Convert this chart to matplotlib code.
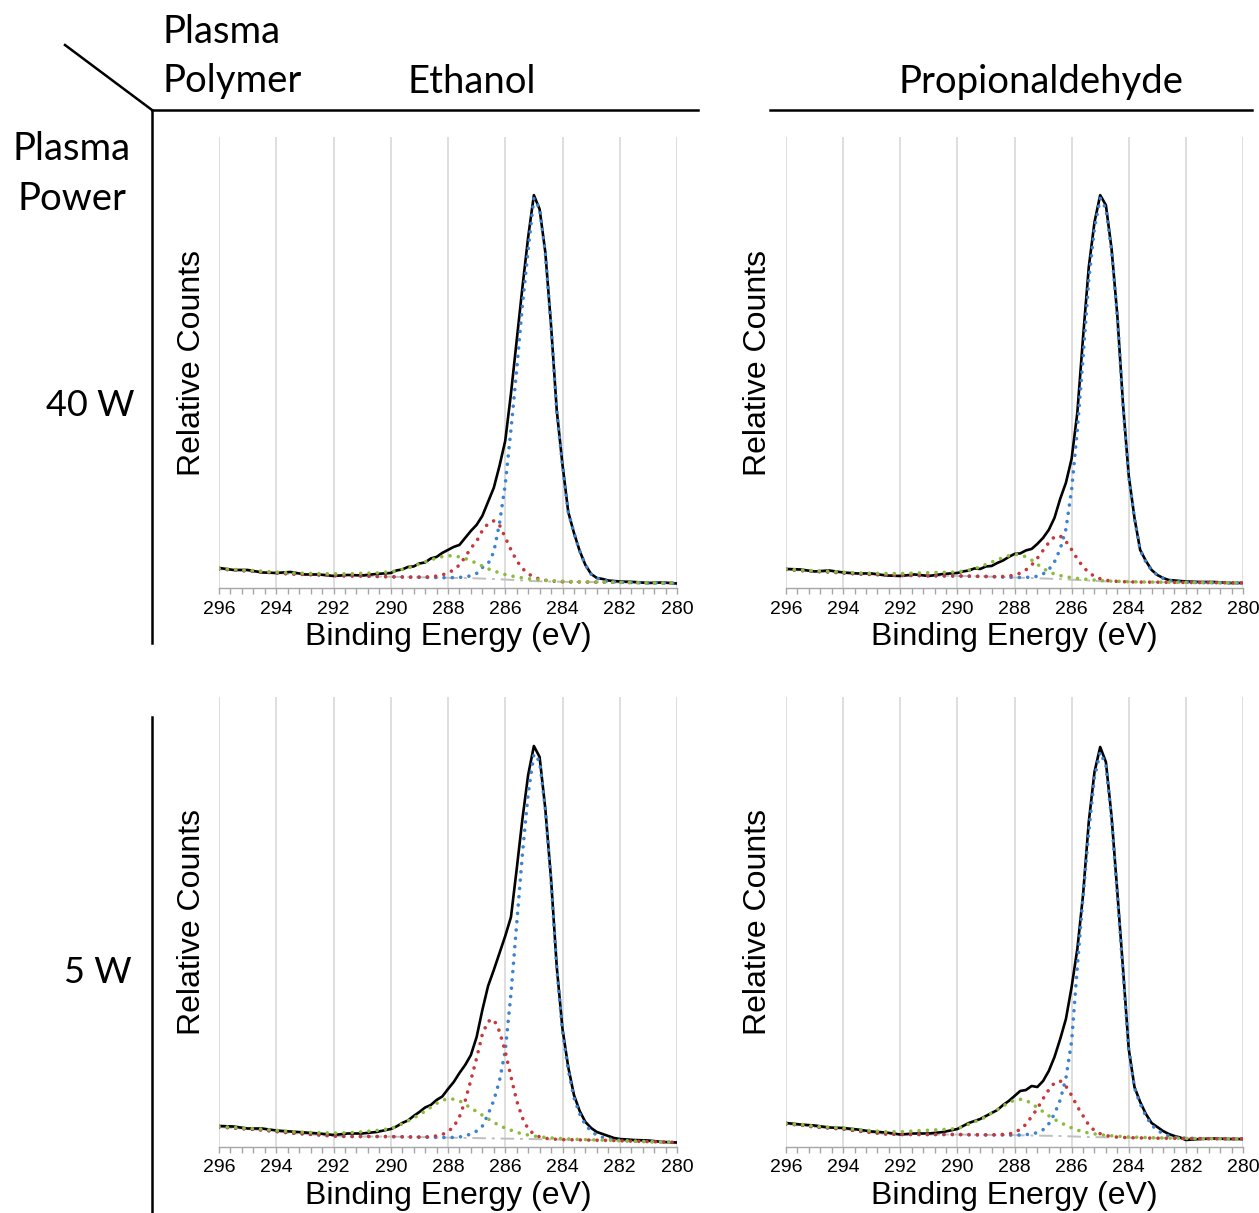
import numpy as np
import matplotlib
matplotlib.use("Agg")
import matplotlib.pyplot as plt
from matplotlib.lines import Line2D
from matplotlib.ticker import MultipleLocator

W, H = 1259, 1213

# binding energy grid (eV): coarse on the flat ends, fine across the C1s peak
energy = np.concatenate([np.arange(296.0, 290.4, -0.5),
                         np.round(np.arange(290.0, 282.1, -0.2), 1),
                         np.arange(282.0, 279.9, -0.5)])

# ---- Ethanol, 40 W ----
etoh40_total = [20, 18, 18, 15.5, 15, 16, 13.5, 13.5, 12, 13, 12.5, 14,
                15, 17.5, 18.5, 21, 21.5, 24.5, 25.5, 29.5, 31, 35,
                38, 41, 43, 50, 57, 63, 72, 86, 100, 122,
                147, 194, 247, 300, 350, 392, 378, 335, 262, 177,
                123, 76, 55, 37, 23, 14, 10, 9, 7.5, 7,
                6.5, 6, 5, 5.5, 4.5]
etoh40_bg = [19, 18, 17, 16, 15, 14, 13.5, 13, 12.5, 12, 12, 11.5,
             11.2, 11.1, 11.0, 10.9, 10.8, 10.7, 10.6, 10.5, 10.4, 10.3,
             10.2, 10.1, 10.0, 9.9, 9.8, 9.6, 9.4, 9.2, 9.0, 8.7,
             8.4, 8.1, 7.8, 7.5, 7.2, 6.9, 6.7, 6.5, 6.4, 6.3,
             6.2, 6.1, 6.0, 6.0, 5.9, 5.9, 5.8, 5.8, 5.7, 5.7,
             5.6, 5.4, 5.2, 5.0, 4.8]
etoh40_cc = ([0] * 22 + [0, 0.3, 0.6, 1, 2.5, 5, 11, 15, 27, 56]
             + [95, 150, 210, 275, 330, 382, 372, 328, 255, 170]
             + [116, 70, 49, 31, 17, 8, 4, 2, 1, 0.5] + [0.3, 0, 0, 0, 0])
etoh40_co = ([0] * 12 + [0, 0, 0, 0, 0, 0.2, 0.4, 0.8, 1.5, 2.8]
             + [4.8, 8, 13, 21, 30, 37, 48, 55, 58, 54]
             + [42, 30, 19.5, 12, 7, 4, 2.2, 1.2, 0.6, 0.3] + [0] * 15)
etoh40_oco = ([0.5, 0.6, 0.7, 0.8, 0.9, 1, 1.2, 1.4, 1.7, 2.1, 2.7, 3.5]
              + [5, 6, 7.5, 9, 11, 13.5, 15.5, 17.5, 19.5, 21]
              + [22, 22, 21, 19.5, 17.5, 15, 12.5, 10, 8, 6.5]
              + [5, 4, 3.2, 2.6, 2.1, 1.7, 1.4, 1.1, 0.9, 0.7]
              + [0.6, 0.5, 0.4, 0.3, 0.3, 0.2, 0.2, 0.1, 0.1, 0.1] + [0] * 5)

# ---- Propionaldehyde, 40 W ----
prop40_total = [19, 18.5, 16.5, 17.5, 15.5, 14.5, 14.5, 12.5, 12, 13.5, 12, 14,
                15, 16.5, 17.5, 19.5, 19, 21.5, 22, 25, 27.5, 31,
                34, 34.5, 37.5, 39, 44, 50, 58, 70, 89, 105,
                129, 175, 250, 320, 365, 392, 382, 338, 272, 183,
                112, 70, 38, 27, 18, 13, 10, 8, 7.5, 7,
                6.5, 6, 6, 5, 5]
prop40_bg = [18.5, 17.5, 16.5, 16, 15, 14, 13.5, 13, 12.5, 12.5, 12.3, 12.1,
             12, 11.9, 11.8, 11.7, 11.6, 11.5, 11.3, 11.1, 10.9, 10.7,
             10.5, 10.3, 10.1, 9.9, 9.7, 9.5, 9.3, 9.1, 8.9, 8.6,
             8.3, 8.0, 7.7, 7.4, 7.1, 6.8, 6.6, 6.4, 6.3, 6.2,
             6.1, 6.0, 5.9, 5.9, 5.8, 5.8, 5.7, 5.7, 5.6, 5.6,
             5.5, 5.4, 5.3, 5.2, 5.1]
prop40_cc = ([0] * 22 + [0, 0.2, 0.5, 1, 2, 4.5, 9, 17, 30, 50]
             + [90, 150, 222, 300, 352, 382, 372, 330, 265, 175]
             + [105, 63, 32, 20, 12, 7, 4, 2, 1, 0.5] + [0.3, 0, 0, 0, 0])
prop40_co = ([0] * 12 + [0, 0, 0, 0, 0, 0, 0, 0.3, 0.6, 1.2]
             + [2.5, 4.5, 8, 13, 20, 28, 36, 42, 43, 38]
             + [30, 21, 13.5, 8, 4.5, 2.4, 1.2, 0.6, 0.3, 0.1] + [0] * 15)
prop40_oco = ([0.4, 0.5, 0.6, 0.7, 0.8, 1, 1.2, 1.5, 1.9, 2.4, 3, 3.5]
              + [4, 5, 6, 7.5, 9.5, 12, 14.5, 17, 19.5, 21.5]
              + [23, 23, 21, 18, 14, 10, 7, 4.8, 3.5, 2.6]
              + [2, 1.6, 1.3, 1, 0.8, 0.6, 0.5, 0.4, 0.3, 0.3]
              + [0.2, 0.2, 0.2, 0.1, 0.1, 0.1, 0.1, 0.1, 0, 0] + [0] * 5)

# ---- Ethanol, 5 W ----
etoh5_total = [21, 20.5, 18.5, 18.5, 16.5, 15.5, 14.5, 13.5, 12, 13.5, 13.5, 15,
               18, 20.5, 24, 26.5, 31, 35, 39.5, 42, 47, 50.5,
               58, 65, 74, 82, 92, 110, 137, 161, 177, 194,
               211, 230, 278, 328, 372, 401, 390, 338, 268, 180,
               118, 80, 52, 36, 25, 19, 15, 13, 11, 9,
               8, 7, 6.5, 5, 4.5]
etoh5_bg = [20, 19, 18, 17, 15.5, 14, 13, 12, 11, 10.5, 10.5, 10.5,
            10.4, 10.3, 10.2, 10.1, 10.0, 9.9, 9.8, 9.7, 9.6, 9.5,
            9.4, 9.3, 9.2, 9.1, 9.0, 8.9, 8.8, 8.7, 8.6, 8.5,
            8.4, 8.3, 8.2, 8.1, 8.0, 7.9, 7.8, 7.7, 7.6, 7.5,
            7.4, 7.3, 7.2, 7.1, 7.0, 6.9, 6.8, 6.7, 6.6, 6.5,
            6.2, 5.8, 5.4, 5.0, 4.6]
etoh5_cc = ([0] * 22 + [0, 0.3, 0.8, 2, 4, 7, 12, 24, 38, 58]
            + [88, 145, 215, 285, 345, 385, 378, 330, 258, 172]
            + [108, 70, 42, 26, 15, 9, 5, 3, 1.5, 0.8] + [0.4, 0, 0, 0, 0])
etoh5_co = ([0] * 12 + [0, 0, 0, 0, 0, 0, 0.3, 0.7, 1.5, 3]
            + [6, 11, 21, 37, 58, 80, 104, 117, 119, 107]
            + [87, 62, 38, 21, 10, 5, 2.3, 1, 0.5, 0.2] + [0] * 15)
etoh5_oco = ([0.5, 0.6, 0.7, 0.9, 1.1, 1.4, 1.8, 2.3, 2.9, 3.7, 4.7, 6]
             + [8, 10, 13, 16, 19, 22.5, 26, 30, 34, 37]
             + [39, 38.5, 37, 33.5, 30, 26.5, 23, 19.5, 16, 13]
             + [10.5, 8.5, 6.5, 5, 4, 3, 2.4, 1.9, 1.5, 1.2]
             + [1, 0.8, 0.6, 0.5, 0.4, 0.3, 0.3, 0.2, 0.2, 0.1] + [0] * 5)

# ---- Propionaldehyde, 5 W ----
prop5_total = [24, 22.5, 21.5, 19.5, 19, 17.5, 15.5, 14.5, 12.5, 13.5, 13.5, 15,
               18, 21, 24, 26, 28, 31, 34, 37, 42, 46,
               51, 56, 57, 61, 60, 66, 76, 90, 108, 128,
               160, 198, 252, 325, 375, 400, 385, 330, 255, 178,
               98, 60, 45, 33, 24, 20, 16, 13, 11, 9.5,
               7, 8, 8.5, 8, 8]
prop5_bg = [23, 22, 20, 19, 18, 16, 14.5, 13, 12.5, 12.5, 12.5, 12.5,
            12.5, 12.4, 12.3, 12.2, 12.2, 12.1, 12.1, 12.0, 12.0, 11.9,
            11.8, 11.7, 11.6, 11.5, 11.4, 11.3, 11.2, 11.1, 11.0, 10.8,
            10.6, 10.4, 10.2, 10.0, 9.9, 9.8, 9.7, 9.6, 9.5, 9.4,
            9.3, 9.2, 9.1, 9.0, 8.9, 8.8, 8.8, 8.7, 8.7, 8.6,
            8.5, 8.4, 8.3, 8.2, 8.1]
prop5_cc = ([0] * 22 + [0, 0.3, 0.8, 1.5, 3, 6, 12, 22, 36, 58]
            + [95, 170, 240, 305, 360, 385, 372, 318, 243, 165]
            + [88, 50, 34, 22, 13, 8, 4.5, 2.5, 1.2, 0.6] + [0.3, 0, 0, 0, 0])
prop5_co = ([0] * 12 + [0, 0, 0, 0, 0, 0, 0, 0.3, 0.6, 1.2]
            + [2.5, 6, 11, 19, 27, 37, 46, 53, 55, 50]
            + [41, 30, 21, 12, 6.5, 3.5, 1.8, 0.9, 0.4, 0.2] + [0] * 15)
prop5_oco = ([0.5, 0.6, 0.7, 0.9, 1.1, 1.4, 1.8, 2.2, 2.8, 3.5, 4.3, 5]
             + [6, 8, 10.5, 13, 15.5, 18, 22, 25.5, 29, 32.5]
             + [35, 36, 35, 32, 28, 24, 20, 16.5, 13.5, 11]
             + [8.5, 6.5, 5, 4, 3.2, 2.5, 2, 1.6, 1.3, 1]
             + [0.8, 0.7, 0.6, 0.5, 0.4, 0.3, 0.3, 0.2, 0.2, 0.1] + [0] * 5)

panels = [
    (etoh40_total, etoh40_bg, etoh40_cc, etoh40_co, etoh40_oco),
    (prop40_total, prop40_bg, prop40_cc, prop40_co, prop40_oco),
    (etoh5_total, etoh5_bg, etoh5_cc, etoh5_co, etoh5_oco),
    (prop5_total, prop5_bg, prop5_cc, prop5_co, prop5_oco),
]

# axes boxes in pixels: left, top, right, bottom
boxes = [(219, 137, 677, 588), (786, 137, 1243, 588),
         (219, 697, 677, 1147), (786, 697, 1243, 1147)]

plt.rcParams['font.family'] = ['Liberation Sans', 'DejaVu Sans']

fig = plt.figure(figsize=(W / 100, H / 100), dpi=100)

def fx(px):
    return px / W

def fy(py):
    return 1 - py / H

dots = (0, (0.01, 2.3))
for (total, bg, cc, co, oco), (l, t, r, b) in zip(panels, boxes):
    ax = fig.add_axes([fx(l), fy(b), (r - l) / W, (b - t) / H])
    bg = np.array(bg)
    ax.plot(energy, bg, color='#bfbfbf', lw=1.4, ls=(0, (7, 3, 1.5, 3)), zorder=2)
    ax.plot(energy, total, color='black', lw=1.9, zorder=3)
    ax.plot(energy, bg + np.array(cc), color='#3b82d0', lw=2.6, ls=dots,
            dash_capstyle='round', zorder=4)
    ax.plot(energy, bg + np.array(co), color='#c8373a', lw=2.6, ls=dots,
            dash_capstyle='round', zorder=4)
    ax.plot(energy, bg + np.array(oco), color='#8dbb3c', lw=2.6, ls=dots,
            dash_capstyle='round', zorder=4)
    ax.set_xlim(296, 280)
    ax.set_ylim(0, 450)
    ax.xaxis.set_major_locator(MultipleLocator(2))
    ax.xaxis.set_minor_locator(MultipleLocator(0.4))
    ax.grid(axis='x', which='major', color='#d4d4d4', lw=1.1)
    ax.set_axisbelow(True)
    for s in ['top', 'right', 'left']:
        ax.spines[s].set_visible(False)
    ax.spines['bottom'].set_color('#a6a6a6')
    ax.spines['bottom'].set_linewidth(1.0)
    ax.tick_params(axis='x', which='both', direction='out', color='#a6a6a6',
                   length=4, width=1.0, labelsize=14, pad=5)
    ax.tick_params(axis='y', left=False, labelleft=False)
    ax.set_xlabel('Binding Energy (eV)', fontsize=23, labelpad=3)
    ax.set_ylabel('Relative Counts', fontsize=23, labelpad=9)

# table-like header lines
lw_frame = 1.8
fig.add_artist(Line2D([fx(65), fx(152)], [fy(45), fy(110)], color='black', lw=lw_frame))
fig.add_artist(Line2D([fx(152), fx(698)], [fy(110), fy(110)], color='black', lw=lw_frame))
fig.add_artist(Line2D([fx(770), fx(1252)], [fy(110), fy(110)], color='black', lw=lw_frame))
fig.add_artist(Line2D([fx(152), fx(152)], [fy(110), fy(643)], color='black', lw=lw_frame))
fig.add_artist(Line2D([fx(152), fx(152)], [fy(717), fy(1213)], color='black', lw=lw_frame))

hdr = dict(fontsize=27.5, family=['Lato', 'DejaVu Sans'])
fig.text(fx(163), fy(43), 'Plasma', ha='left', va='baseline', **hdr)
fig.text(fx(163), fy(92), 'Polymer', ha='left', va='baseline', **hdr)
fig.text(fx(472), fy(93), 'Ethanol', ha='center', va='baseline', **hdr)
fig.text(fx(1041), fy(93), 'Propionaldehyde', ha='center', va='baseline', **hdr)
fig.text(fx(72), fy(160), 'Plasma', ha='center', va='baseline', **hdr)
fig.text(fx(72), fy(210), 'Power', ha='center', va='baseline', **hdr)
row = dict(fontsize=26, family=['Lato', 'DejaVu Sans'])
fig.text(fx(135), fy(416), '40 W', ha='right', va='baseline', **row)
fig.text(fx(132), fy(983), '5 W', ha='right', va='baseline', **row)

fig.savefig('out.png', dpi=100)
